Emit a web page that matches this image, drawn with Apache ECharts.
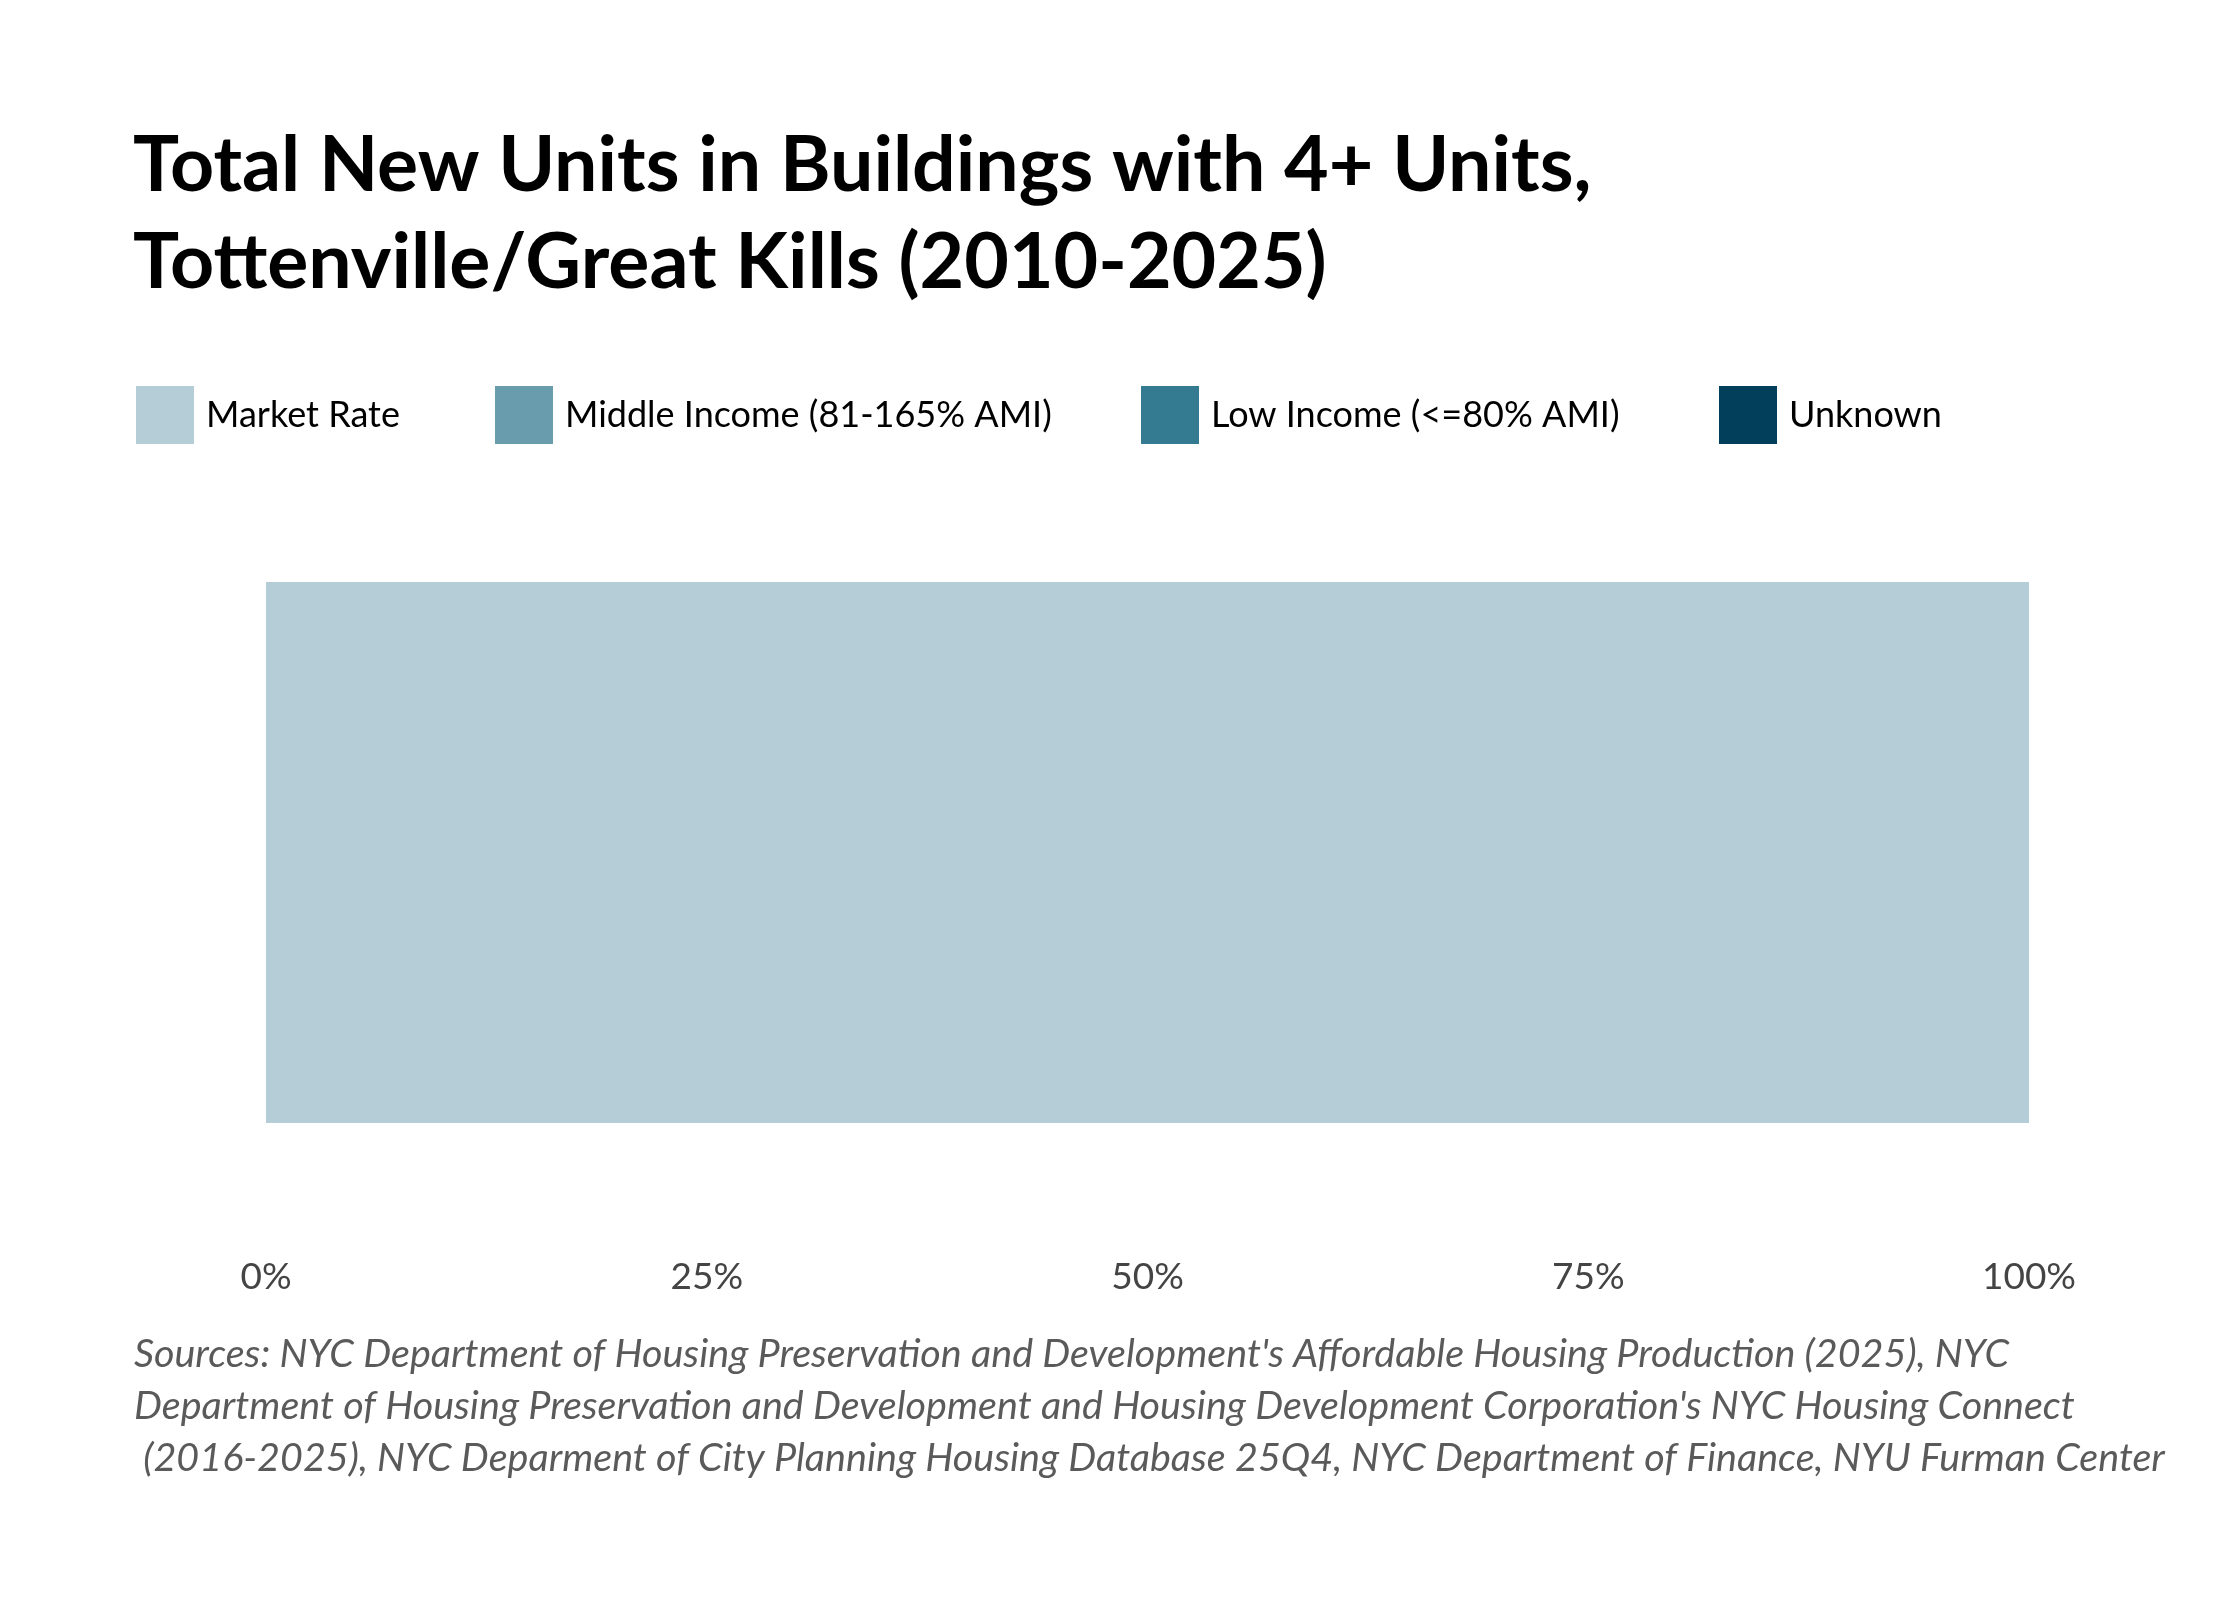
<!DOCTYPE html>
<html>
<head>
<meta charset="utf-8">
<script src="https://cdn.jsdelivr.net/npm/echarts@6/dist/echarts.min.js"></script>
<style>
html,body{margin:0;padding:0;background:#fff;}
#chart{width:2240px;height:1600px;}
</style>
</head>
<body>
<div id="chart"></div>
<script>
const categories = ['Tottenville/Great Kills'];
const seriesNames = ['Market Rate', 'Middle Income (81-165% AMI)', 'Low Income (<=80% AMI)', 'Unknown'];
const marketRate = [100];
const middleIncome = [0];
const lowIncome = [0];
const unknown = [0];
const xTicks = [0, 25, 50, 75, 100];
const titleText = 'Total New Units in Buildings with 4+ Units,\nTottenville/Great Kills (2010-2025)';
const sourceLines = [
  "Sources: NYC Department of Housing Preservation and Development's Affordable Housing Production (2025), NYC",
  "Department of Housing Preservation and Development and Housing Development Corporation's NYC Housing Connect",
  " (2016-2025), NYC Deparment of City Planning Housing Database 25Q4, NYC Department of Finance, NYU Furman Center"
];
const colors = ['#b4cdd6', '#699dae', '#347a91', '#023f5b'];
const seriesData = [marketRate, middleIncome, lowIncome, unknown];
const legendLefts = [136, 495, 1141, 1719];

const chart = echarts.init(document.getElementById('chart'));
const FONT = 'Lato';
chart.setOption({
  backgroundColor: '#ffffff',
  animation: false,
  title: {
    text: titleText,
    left: 128,
    top: 113,
    padding: 5,
    textStyle: { fontFamily: FONT, fontWeight: 'bold', fontSize: 77, lineHeight: 97, color: '#000' }
  },
  legend: seriesNames.map((n, i) => ({
    data: [n],
    left: legendLefts[i],
    top: 386,
    padding: 0,
    itemWidth: 58,
    itemHeight: 58,
    icon: 'rect',
    selectedMode: false,
    textStyle: { fontFamily: FONT, fontSize: 36, color: '#000', padding: [0, 0, 0, 7] }
  })),
  grid: { left: 266, width: 1763, top: 582, height: 541, containLabel: false },
  xAxis: {
    type: 'value',
    min: 0,
    max: 100,
    interval: 25,
    axisLine: { show: false },
    axisTick: { show: false },
    splitLine: { show: false },
    axisLabel: {
      margin: 136,
      fontFamily: FONT,
      fontSize: 37,
      color: '#444',
      formatter: v => xTicks.includes(v) ? v + '%' : ''
    }
  },
  yAxis: {
    type: 'category',
    data: categories,
    show: false
  },
  series: seriesNames.map((n, i) => ({
    name: n,
    type: 'bar',
    stack: 'total',
    data: seriesData[i],
    barCategoryGap: '0%',
    itemStyle: { color: colors[i] }
  })),
  graphic: [{
    type: 'text',
    left: 134,
    top: 1328,
    style: {
      text: sourceLines.join('\n'),
      fontFamily: FONT,
      fontStyle: 'italic',
      fontSize: 39.5,
      lineHeight: 52,
      fill: '#5a5a5a'
    }
  }]
});
</script>
</body>
</html>
